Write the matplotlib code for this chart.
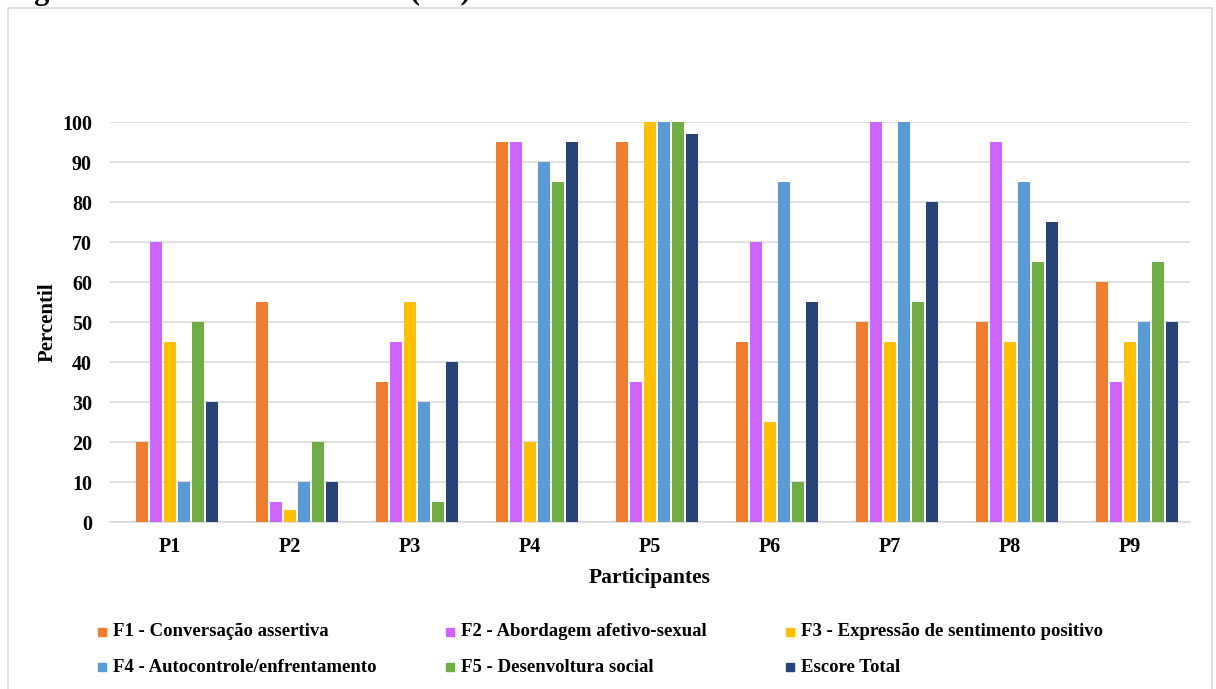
import numpy as np
import matplotlib.pyplot as plt
from matplotlib.patches import Rectangle

plt.rcParams['font.family'] = ['Liberation Serif', 'DejaVu Serif']
plt.rcParams['font.weight'] = 'bold'

participantes = ['P1', 'P2', 'P3', 'P4', 'P5', 'P6', 'P7', 'P8', 'P9']
series = ['F1 - Conversação assertiva', 'F2 - Abordagem afetivo-sexual',
          'F3 - Expressão de sentimento positivo', 'F4 - Autocontrole/enfrentamento',
          'F5 - Desenvoltura social', 'Escore Total']
f1 = [20, 55, 35, 95, 95, 45, 50, 50, 60]
f2 = [70, 5, 45, 95, 35, 70, 100, 95, 35]
f3 = [45, 3, 55, 20, 100, 25, 45, 45, 45]
f4 = [10, 10, 30, 90, 100, 85, 100, 85, 50]
f5 = [50, 20, 5, 85, 100, 10, 55, 65, 65]
total = [30, 10, 40, 95, 97, 55, 80, 75, 50]
valores = [f1, f2, f3, f4, f5, total]
cores = ['#ED7D31', '#CC66FF', '#FFC000', '#5B9BD5', '#70AD47', '#264478']

W, H = 1216, 689
fig = plt.figure(figsize=(W/100, H/100), dpi=100)
ax = fig.add_axes([110/W, 1-522/H, 1080/W, 400/H])

x = np.arange(len(participantes))
slot = 0.117  # 7 posicoes por grupo, a primeira vazia (como no Excel)
for i, (v, c) in enumerate(zip(valores, cores)):
    ax.bar(x + (i - 2)*slot, v, width=0.1, color=c, label=series[i], zorder=3)

ax.set_xlim(-0.5, len(participantes) - 0.5)
ax.set_ylim(0, 100)
ax.set_yticks(range(0, 101, 10))
ax.grid(axis='y', color='#d9d9d9', linewidth=1.2, zorder=0)
for s in ['top', 'right', 'left']:
    ax.spines[s].set_visible(False)
ax.spines['bottom'].set_color('#d9d9d9')
ax.spines['bottom'].set_linewidth(1.2)
ax.tick_params(length=0, labelsize=14.5)
ax.tick_params(axis='y', pad=13)
ax.tick_params(axis='x', pad=11)
ax.set_xticks(x)
ax.set_xticklabels(participantes)
for t in ax.get_xticklabels() + ax.get_yticklabels():
    t.set_fontweight('bold')
ax.set_xlabel('Participantes', fontsize=15.5, fontweight='bold', labelpad=8)
ax.set_ylabel('Percentil', fontsize=15, fontweight='bold', labelpad=3)

# legenda (posicionada a mao, 3 colunas x 2 linhas)
col_x = [98, 446, 786]
lin_y = [632, 667]
for i, (nome, c) in enumerate(zip(series, cores)):
    px = col_x[i % 3]
    py = lin_y[i // 3]
    fig.patches.append(Rectangle((px/W, 1-(py+4)/H), 8/W, 8/H, transform=fig.transFigure,
                                 color=c))
    fig.text((px+15)/W, 1-py/H, nome, fontsize=13.5, fontweight='bold', va='center')

# moldura e titulo cortado no topo
fig.patches.append(Rectangle((8/W, -0.01), (W-12)/W, 1-8/H+0.01, transform=fig.transFigure,
                             fill=False, edgecolor='#d9d9d9', linewidth=1.2))
fig.text(7/W, 1+1.5/H, 'Figura 3 – Habilidades Sociais (HS) da amostra', fontsize=22,
         fontweight='bold', va='baseline')

fig.savefig('out.png', dpi=100)
